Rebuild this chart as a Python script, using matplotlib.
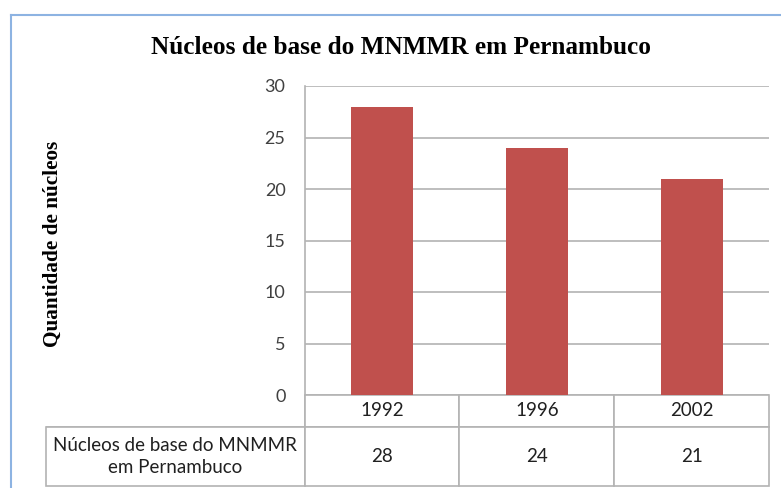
import matplotlib.pyplot as plt
from matplotlib.lines import Line2D

# data
years = ['1992', '1996', '2002']
nucleos = [28, 24, 21]
serie = 'Núcleos de base do MNMMR\nem Pernambuco'
yticks = [0, 5, 10, 15, 20, 25, 30]

W, H = 781, 488
fig = plt.figure(figsize=(W / 100, H / 100), dpi=100)

# plot area in pixels: x 305-769, y 86-395
ax = fig.add_axes([305 / W, 1 - 395 / H, 464 / W, 309 / H])

bar_red = '#C0504D'
grid_c = '#B3B3B3'
sans = ['Lato', 'DejaVu Sans']
serif = ['Liberation Serif', 'DejaVu Serif']

x = range(len(years))
ax.bar(x, nucleos, width=0.4, color=bar_red, zorder=3)
ax.set_xlim(-0.5, len(years) - 0.5)
ax.set_ylim(0, 30)
ax.set_yticks(yticks)
ax.set_yticklabels([str(t) for t in yticks], family=sans, fontsize=13, color='#404040')
ax.tick_params(axis='y', length=0, pad=14)
ax.set_xticks([])
ax.yaxis.grid(True, color=grid_c, linewidth=1.2, zorder=0)
for s in ['top', 'right', 'bottom']:
    ax.spines[s].set_visible(False)
ax.spines['left'].set_color(grid_c)
ax.spines['left'].set_linewidth(1.2)

ax.set_ylabel('Quantidade de núcleos', family=serif, fontweight='bold', fontsize=15.3, labelpad=0)
ax.yaxis.set_label_coords((63 - 305) / 464, 0.49)

# data table below the plot
cells = [[''] + years, [serie] + [str(v) for v in nucleos]]
tab = ax.table(cellText=cells, cellLoc='center',
               bbox=[-259 / 464, -91 / 309, 723 / 464, 91 / 309])
tab.auto_set_font_size(False)
col_w = [259, 155, 155, 155]
row_h = [32, 59]
for (r, c), cell in tab.get_celld().items():
    cell.set_width(col_w[c])
    cell.set_height(row_h[r])
    cell.set_edgecolor(grid_c)
    cell.set_linewidth(1.2)
    txt = cell.get_text()
    txt.set_fontsize(13.5)
    txt.set_family(sans)
    txt.set_color('#202020')
    txt.set_linespacing(1.35)
tab[0, 0].visible_edges = 'BR'

fig.text(401 / W, 1 - 47 / H, 'Núcleos de base do MNMMR em Pernambuco',
         ha='center', va='center', family=serif, fontweight='bold', fontsize=18.2)

# chart border (blue)
border = '#8DB3E2'
fig.add_artist(Line2D([11 / W, 1], [1 - 15 / H, 1 - 15 / H], color=border, lw=1.5, transform=fig.transFigure))
fig.add_artist(Line2D([11 / W, 11 / W], [0, 1 - 15 / H], color=border, lw=1.5, transform=fig.transFigure))

fig.savefig('out.png', dpi=100)
